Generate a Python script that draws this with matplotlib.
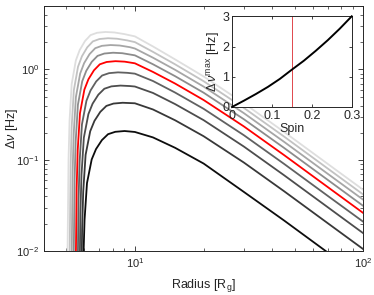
import matplotlib
matplotlib.use("Agg")
import matplotlib.pyplot as plt
from matplotlib.ticker import LogLocator, NullFormatter

plt.rcParams['font.family'] = ['Liberation Sans', 'DejaVu Sans']
plt.rcParams['mathtext.fontset'] = 'custom'
plt.rcParams['mathtext.rm'] = 'Liberation Sans'
plt.rcParams['mathtext.it'] = 'Liberation Sans:italic'

# spin values of the curves (lowest -> highest)
spins = [0.03, 0.06, 0.09, 0.12, 0.15, 0.18, 0.21, 0.24, 0.27]

r_003 = [5.872, 5.906, 5.952, 6.021, 6.171, 6.470, 6.757, 7.171, 7.631, 8.206, 9.011, 10, 12, 15, 20, 30, 45, 70, 100]
dnu_003 = [0.0005, 0.0017, 0.0084, 0.0221, 0.0561, 0.1021, 0.1327, 0.1667, 0.1938, 0.2058, 0.210, 0.205, 0.1786, 0.1372, 0.092, 0.0448, 0.0217, 0.0096, 0.0050]

r_006 = [5.796, 5.829, 5.874, 5.941, 6.085, 6.375, 6.654, 7.056, 7.502, 8.059, 8.840, 10, 12, 15, 20, 30, 45, 70, 100]
dnu_006 = [0.0010, 0.0035, 0.0172, 0.0452, 0.1148, 0.209, 0.2718, 0.3414, 0.3969, 0.4214, 0.430, 0.4245, 0.3628, 0.2758, 0.184, 0.0944, 0.0456, 0.0202, 0.01048]

r_009 = [5.699, 5.731, 5.774, 5.839, 5.979, 6.260, 6.530, 6.919, 7.351, 7.891, 8.647, 9.511, 10, 12, 15, 20, 30, 45, 70, 100]
dnu_009 = [0.0016, 0.0054, 0.0266, 0.0698, 0.1776, 0.3232, 0.4203, 0.528, 0.6138, 0.6517, 0.665, 0.657, 0.6494, 0.5516, 0.4158, 0.2766, 0.1416, 0.0684, 0.0303, 0.0157]

r_012 = [5.595, 5.626, 5.668, 5.730, 5.865, 6.136, 6.396, 6.770, 7.186, 7.706, 8.434, 9.266, 10, 12, 15, 20, 30, 45, 70, 100]
dnu_012 = [0.0022, 0.0075, 0.0372, 0.0977, 0.2483, 0.452, 0.5878, 0.7384, 0.8584, 0.9114, 0.930, 0.9188, 0.900, 0.7467, 0.5572, 0.3688, 0.1888, 0.0912, 0.0404, 0.021]

r_015 = [5.49, 5.52, 5.56, 5.62, 5.75, 6.01, 6.26, 6.62, 7.02, 7.52, 8.22, 9.02, 10, 12, 15, 20, 30, 45, 70, 100]
dnu_015 = [0.003, 0.010, 0.049, 0.13, 0.33, 0.60, 0.78, 0.98, 1.14, 1.21, 1.235, 1.22, 1.17, 0.94, 0.70, 0.461, 0.236, 0.114, 0.0505, 0.0262]

r_018 = [5.379, 5.408, 5.447, 5.505, 5.631, 5.883, 6.126, 6.475, 6.863, 7.348, 8.027, 8.803, 10, 12, 15, 20, 30, 45, 70, 100]
dnu_018 = [0.0037, 0.0124, 0.0612, 0.1607, 0.4085, 0.7436, 0.967, 1.215, 1.412, 1.499, 1.53, 1.512, 1.432, 1.142, 0.844, 0.555, 0.2832, 0.1368, 0.0606, 0.0314]

r_021 = [5.275, 5.303, 5.340, 5.397, 5.518, 5.761, 5.995, 6.332, 6.706, 7.173, 7.828, 8.576, 9.511, 10, 12, 15, 20, 30, 45, 70, 100]
dnu_021 = [0.0045, 0.0151, 0.0744, 0.1953, 0.4966, 0.904, 1.1755, 1.4768, 1.7168, 1.8228, 1.86, 1.8377, 1.7614, 1.703, 1.349, 0.9918, 0.648, 0.3304, 0.1596, 0.0707, 0.0367]

r_024 = [5.170, 5.197, 5.233, 5.287, 5.404, 5.638, 5.863, 6.187, 6.547, 6.997, 7.627, 8.347, 9.247, 10, 12, 15, 20, 30, 45, 70, 100]
dnu_024 = [0.0053, 0.0179, 0.0884, 0.232, 0.590, 1.074, 1.397, 1.755, 2.040, 2.166, 2.21, 2.183, 2.093, 2.003, 1.564, 1.140, 0.7428, 0.3776, 0.1824, 0.0808, 0.0419]

r_027 = [5.063, 5.089, 5.124, 5.176, 5.289, 5.515, 5.733, 6.046, 6.394, 6.829, 7.438, 8.134, 9.004, 10, 12, 15, 20, 30, 45, 70, 100]
dnu_027 = [0.0062, 0.021, 0.1036, 0.272, 0.6915, 1.259, 1.637, 2.056, 2.391, 2.538, 2.59, 2.559, 2.453, 2.317, 1.794, 1.2915, 0.838, 0.4248, 0.2052, 0.0909, 0.0472]

# inset: peak value vs spin
spin_inset = [0, 0.03, 0.06, 0.09, 0.12, 0.15, 0.18, 0.21, 0.24, 0.27, 0.30]
dnu_max = [0, 0.21, 0.43, 0.665, 0.93, 1.235, 1.53, 1.86, 2.21, 2.59, 3.0]
spin_mark = 0.15

curves = [(r_003, dnu_003), (r_006, dnu_006), (r_009, dnu_009), (r_012, dnu_012),
          (r_015, dnu_015), (r_018, dnu_018), (r_021, dnu_021), (r_024, dnu_024),
          (r_027, dnu_027)]
colors = ['0.05', '0.22', '0.30', '0.38', 'red', '0.55', '0.65', '0.76', '0.87']

axc = '#262626'

fig = plt.figure(figsize=(3.74, 2.95), dpi=100)
ax = fig.add_axes([0.1176, 0.149, 0.8538, 0.8305])

for (r, d), c in zip(curves, colors):
    ax.plot(r, d, color=c, lw=1.3, zorder=3 if c == 'red' else 2)

ax.set_xscale('log')
ax.set_yscale('log')
ax.set_xlim(4, 100)
ax.set_ylim(0.01, 5)
ax.xaxis.set_major_locator(LogLocator(base=10, numticks=10))
ax.yaxis.set_major_locator(LogLocator(base=10, numticks=10))
ax.xaxis.set_minor_locator(LogLocator(base=10, subs=range(2, 10), numticks=20))
ax.yaxis.set_minor_locator(LogLocator(base=10, subs=range(2, 10), numticks=20))
ax.xaxis.set_minor_formatter(NullFormatter())
ax.yaxis.set_minor_formatter(NullFormatter())
ax.tick_params(which='both', direction='in', top=True, right=True, colors=axc, labelsize=8)
ax.tick_params(which='major', length=3.5, width=0.6)
ax.tick_params(which='minor', length=2, width=0.5)
for s in ax.spines.values():
    s.set_color(axc)
    s.set_linewidth(0.7)
ax.set_xlabel('Radius [R$_\\mathrm{g}$]', fontsize=9, color=axc, labelpad=5)
ax.set_ylabel('$\\Delta\\nu$ [Hz]', fontsize=9, color=axc)
ax.yaxis.set_label_coords(-0.075, 0.5)

# inset
ins = fig.add_axes([0.6203, 0.6373, 0.3201, 0.3074])
ins.plot(spin_inset, dnu_max, color='black', lw=1.4, clip_on=False, zorder=3)
ins.axvline(spin_mark, color='#e0474c', lw=0.7)
ins.set_xlim(0, 0.3)
ins.set_ylim(0, 3)
ins.set_xticks([0, 0.1, 0.2, 0.3])
ins.set_xticklabels(['0', '0.1', '0.2', '0.3'])
ins.set_yticks([0, 1, 2, 3])
ins.tick_params(direction='in', top=True, right=True, colors=axc, labelsize=9,
                length=2.5, width=0.6, pad=2)
for s in ins.spines.values():
    s.set_color(axc)
    s.set_linewidth(0.7)
ins.set_xlabel('Spin', fontsize=9, color=axc, labelpad=1)
ins.set_ylabel('$\\Delta\\,\\nu^{\\mathrm{max}}$ [Hz]', fontsize=9, color=axc, labelpad=0)

fig.savefig('out.png', dpi=100)
